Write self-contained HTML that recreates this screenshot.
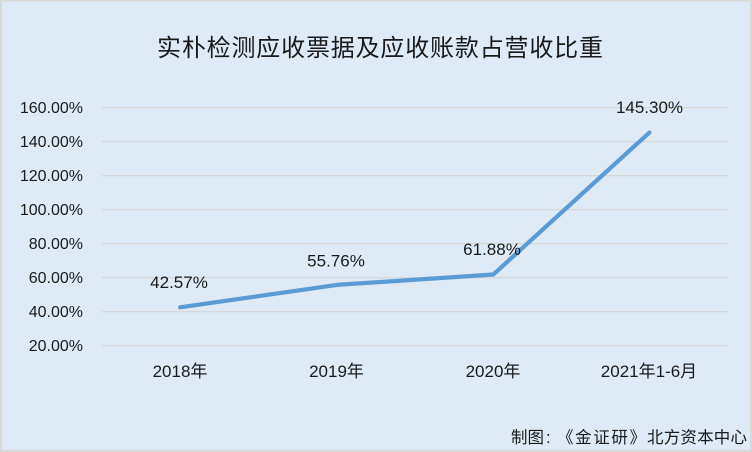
<!DOCTYPE html>
<html>
<head>
<meta charset="utf-8">
<style>
html,body{margin:0;padding:0;background:#fff;}
svg{display:block;}
</style>
</head>
<body>
<svg width="752" height="452" viewBox="0 0 752 452" xmlns="http://www.w3.org/2000/svg">
  <rect x="0" y="0" width="752" height="452" fill="#d9d9d9"/>
  <rect x="2" y="1.5" width="748" height="448" fill="#deebf7"/>
  <text x="157" y="56" font-family="'Liberation Sans','Noto Sans CJK SC',sans-serif" font-size="24" fill="#1a1a1a" textLength="446" lengthAdjust="spacing">实朴检测应收票据及应收账款占营收比重</text>
  <g stroke="#d4d4d4" stroke-width="1.2">
    <line x1="102" y1="107.7" x2="728" y2="107.7"/>
    <line x1="102" y1="141.7" x2="728" y2="141.7"/>
    <line x1="102" y1="175.7" x2="728" y2="175.7"/>
    <line x1="102" y1="209.7" x2="728" y2="209.7"/>
    <line x1="102" y1="243.7" x2="728" y2="243.7"/>
    <line x1="102" y1="277.7" x2="728" y2="277.7"/>
    <line x1="102" y1="311.7" x2="728" y2="311.7"/>
    <line x1="102" y1="345.7" x2="728" y2="345.7"/>
  </g>
  <g font-family="'Liberation Sans','Noto Sans CJK SC',sans-serif" font-size="16" fill="#1a1a1a" text-anchor="end">
    <text x="83" y="113.2">160.00%</text>
    <text x="83" y="147.2">140.00%</text>
    <text x="83" y="181.2">120.00%</text>
    <text x="83" y="215.2">100.00%</text>
    <text x="83" y="249.2">80.00%</text>
    <text x="83" y="283.2">60.00%</text>
    <text x="83" y="317.2">40.00%</text>
    <text x="83" y="351.2">20.00%</text>
  </g>
  <polyline points="180.2,307.3 336.8,284.9 493.3,274.5 649.5,132.5" fill="none" stroke="#5b9bd5" stroke-width="4.2" stroke-linecap="round" stroke-linejoin="round"/>
  <g font-family="'Liberation Sans','Noto Sans CJK SC',sans-serif" font-size="17" fill="#1a1a1a" text-anchor="middle">
    <text x="179" y="288">42.57%</text>
    <text x="336" y="266.5">55.76%</text>
    <text x="492" y="255">61.88%</text>
    <text x="649.5" y="113">145.30%</text>
  </g>
  <g font-family="'Liberation Sans','Noto Sans CJK SC',sans-serif" font-size="17" fill="#1a1a1a" text-anchor="middle">
    <text x="180" y="377">2018年</text>
    <text x="336.5" y="377">2019年</text>
    <text x="493" y="377">2020年</text>
    <text x="649" y="377">2021年1-6月</text>
  </g>
  <g font-family="'Liberation Sans','Noto Sans CJK SC',sans-serif" font-size="16.5" fill="#1a1a1a">
    <text x="511" y="443" textLength="33" lengthAdjust="spacing">制图</text>
    <text x="546" y="443">:</text>
    <text x="557" y="443" textLength="89" lengthAdjust="spacing">《金证研》</text>
    <text x="647" y="443" textLength="100" lengthAdjust="spacing">北方资本中心</text>
  </g>
</svg>
</body>
</html>
